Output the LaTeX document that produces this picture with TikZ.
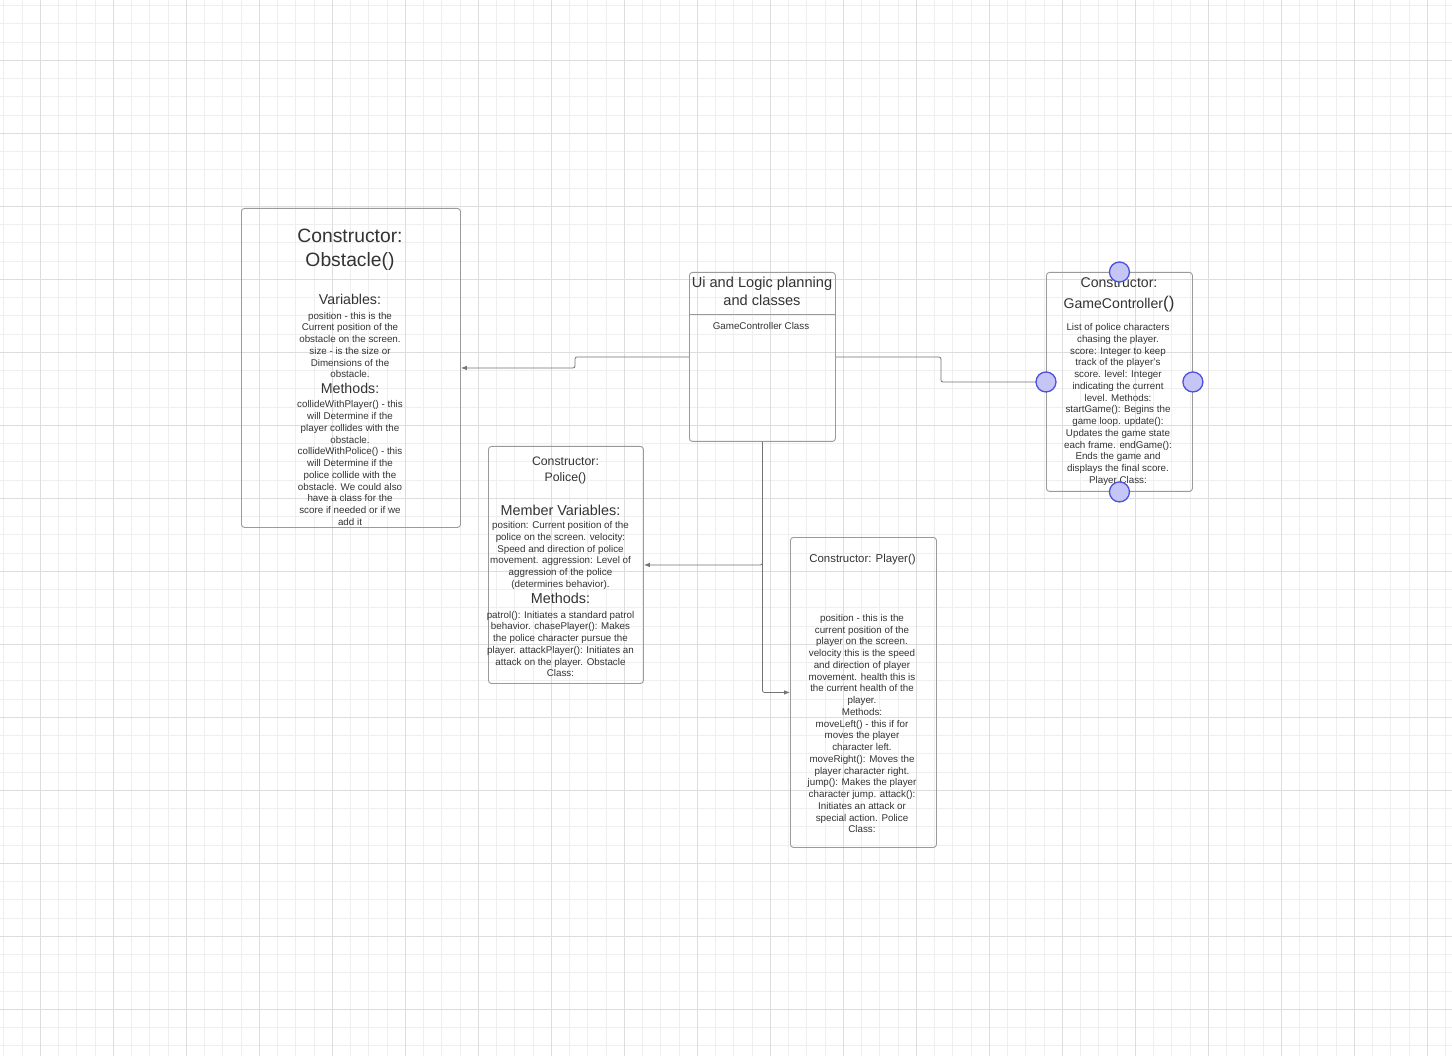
\documentclass[tikz,border=0pt]{standalone}
\usepackage{fontspec}
\setmainfont{Liberation Sans}
\usetikzlibrary{arrows.meta,calc}
\definecolor{gridminor}{HTML}{EFEFEF}
\definecolor{gridmajor}{HTML}{DDDDDD}
\definecolor{ink}{HTML}{333333}
\definecolor{edge}{HTML}{9A9A9A}
\definecolor{handlefill}{HTML}{C5C6F6}
\definecolor{handledraw}{HTML}{4F4FE0}
\begin{document}
\begin{tikzpicture}[x=1pt,y=-1pt,
        box/.style={draw=edge,rounded corners=3pt,line width=0.9pt,anchor=north west,inner sep=0pt},
        txt/.style={text=ink,align=center,inner sep=0pt},
        body/.style={txt,font=\fontsize{9.8}{11.75}\selectfont},
        link/.style={draw=black!55,line width=0.8pt,rounded corners=2pt},
        tip/.style={-{Latex[length=6pt,width=4.5pt]}},
        handle/.style={circle,draw=handledraw,fill=handlefill,line width=1.3pt,minimum size=20pt,inner sep=0pt}]
        \useasboundingbox (0,0) rectangle (1452,1056);
        \fill[white] (0,0) rectangle (1452,1056);
        \def\m{18.25}\def\M{73}
        \foreach\i in {0,...,79}{\draw[gridminor,line width=0.8pt] ({3.8+\m*\i},0) -- ({3.8+\m*\i},1056);}
        \foreach\j in {0,...,57}{\draw[gridminor,line width=0.8pt] (0,{5.6+\m*\j}) -- (1452,{5.6+\m*\j});}
        \foreach\i in {0,...,19}{\draw[gridmajor,line width=0.8pt] ({40.3+\M*\i},0) -- ({40.3+\M*\i},1056);}
        \foreach\j in {0,...,13}{\draw[gridmajor,line width=0.8pt] (0,{60.3+\M*\j}) -- (1452,{60.3+\M*\j});}
        \node[box,minimum width=219,minimum height=319] (obstacle) at (241,208) {};
        \node[box,minimum width=146,minimum height=169] (ui) at (689,272) {};
        \node[box,minimum width=146,minimum height=219] (gamectrl) at (1046,272) {};
        \node[box,minimum width=155,minimum height=237] (police) at (488,446) {};
        \node[box,minimum width=146,minimum height=310] (player) at (790,537) {};
        \draw[draw=edge,line width=0.9pt] ($(ui.north west)+(0,42)$) -- ($(ui.north east)+(0,42)$);
        \node[txt,font=\fontsize{19.3}{24}\selectfont] (obsT) at (350,250) {Constructor:\\Obstacle()};
        \node[txt,font=\fontsize{14.2}{17}\selectfont] (obsV) at (350,299) {Variables:};
        \node[body] (obsVB) at (350,345) {position - this is the\\Current position of the\\obstacle on the screen.\\size - is the size or\\Dimensions of the\\obstacle.};
        \node[txt,font=\fontsize{14.2}{17}\selectfont] (obsM) at (350,388) {Methods:};
        \node[body] (obsMB) at (350,463) {collideWithPlayer() - this\\will Determine if the\\player collides with the\\obstacle.\\collideWithPolice() - this\\will Determine if the\\police collide with the\\obstacle. We could also\\have a class for the\\score if needed or if we\\add it};
        \node[txt,font=\fontsize{14.6}{18}\selectfont] (uiT) at (762,291) {Ui and Logic planning\\and classes};
        \node[body] (uiB) at (761,326) {GameController Class};
        \node[txt,font=\fontsize{14.1}{21}\selectfont] (gcT) at (1119,294.5) {Constructor:\\GameController{\fontsize{17}{21}\selectfont()}};
        \node[body] (gcB) at (1118,404.5) {List of police characters\\chasing the player.\\score: Integer to keep\\track of the player's\\score. level: Integer\\indicating the current\\level. Methods:\\startGame(): Begins the\\game loop. update():\\Updates the game state\\each frame. endGame():\\Ends the game and\\displays the final score.\\Player Class:};
        \node[txt,font=\fontsize{12.3}{16}\selectfont] (polT) at (565.5,470) {Constructor:\\Police()};
        \node[txt,font=\fontsize{14.4}{17}\selectfont] (polV) at (560.5,510) {Member Variables:};
        \node[body] (polVB) at (560.5,555.5) {position: Current position of the\\police on the screen. velocity:\\Speed and direction of police\\movement. aggression: Level of\\aggression of the police\\(determines behavior).};
        \node[txt,font=\fontsize{14.4}{17}\selectfont] (polM) at (560.5,598) {Methods:};
        \node[body] (polMB) at (560.5,644) {patrol(): Initiates a standard patrol\\behavior. chasePlayer(): Makes\\the police character pursue the\\player. attackPlayer(): Initiates an\\attack on the player. Obstacle\\Class:};
        \node[txt,font=\fontsize{11.4}{14}\selectfont] (plT) at (862.5,559.5) {Constructor: Player()};
        \node[body] (plB) at (862,723.5) {position - this is the\\current position of the\\player on the screen.\\velocity this is the speed\\and direction of player\\movement. health this is\\the current health of the\\player.\\Methods:\\moveLeft() - this if for\\moves the player\\character left.\\moveRight(): Moves the\\player character right.\\jump(): Makes the player\\character jump. attack():\\Initiates an attack or\\special action. Police\\Class:};
        \draw[link,tip] (ui.west) -- ++(-114,0) |- (obstacle.east);
        \draw[link] (ui.east) -- ++(105,0) |- (gamectrl.west);
        \draw[link,tip] (ui.south) |- (police.east);
        \draw[link,tip] (ui.south) |- (player.west);
        \foreach\s/\a in {N/north,W/west,E/east,S/south}{
            \node[handle] (h\s) at (gamectrl.\a) {};
        }
    \end{tikzpicture}
\end{document}
